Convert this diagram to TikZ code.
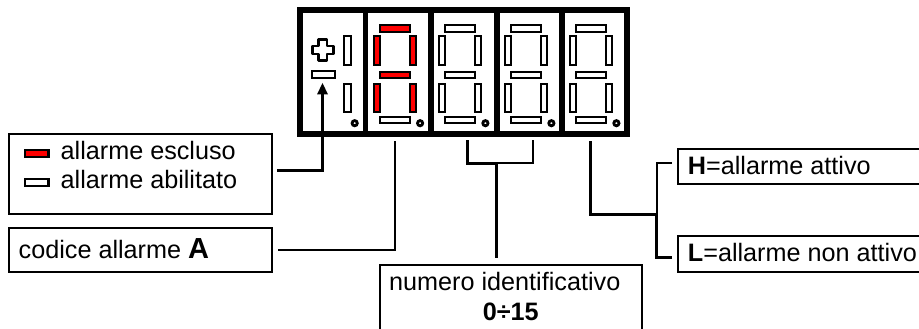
\documentclass[tikz,border=0pt]{standalone}
\usepackage{fontspec}
\setmainfont{Liberation Sans}
\definecolor{alarmred}{RGB}{255,0,0}
\tikzset{
  seg/.style={draw=black,line width=2.1pt,fill=white},
  redseg/.style={draw=black,line width=2.1pt,fill=alarmred},
  frameline/.style={draw=black,line width=5.2pt},
  dotmark/.style={draw=black,line width=2.8pt,fill=white},
  thinline/.style={draw=black,line width=1.3pt},
  midline/.style={draw=black,line width=1.9pt},
  thickline/.style={draw=black,line width=3pt},
  boxed/.style={draw=black,line width=1.8pt,fill=white,inner sep=0pt},
  txt/.style={inner sep=0pt,anchor=base west,font=\fontsize{25.2}{28}\selectfont},
  ctxt/.style={inner sep=0pt,anchor=base,font=\fontsize{25.2}{28}\selectfont\bfseries},
}
% #1 left divider x, #2 style for all segments
\newcommand{\digitsegs}[2]{%
  \begin{scope}[xshift=#1pt]
    \path[#2] (14,25) rectangle (44,32);
    \path[#2] (14,72) rectangle (44,78);
    \path[#2] (8.3,36) rectangle (14.4,65);
    \path[#2] (44.3,36) rectangle (50.4,65);
    \path[#2] (8.3,84) rectangle (14.4,112);
    \path[#2] (44.3,84) rectangle (50.4,112);
    \path[seg] (14,117) rectangle (44,123);
    \path[dotmark] (54.4,123.2) circle (2.6);
  \end{scope}}
\begin{document}
\begin{tikzpicture}[x=1pt,y=-1pt]
\useasboundingbox[fill=white] (0,0) rectangle (919,329);
\begin{scope}
\clip (0,0) rectangle (919,329);
% display frame
\node[frameline,fill=white,inner sep=0pt,minimum width=327pt,minimum height=124pt] (display) at (463.5,72) {};
\foreach \dx in {365.7,431,497,562}{\draw[frameline] (\dx,10) -- (\dx,134);}
% first panel
\path[seg] (344,36) rectangle (351,65);
\path[seg] (344,84) rectangle (351,112);
\path[seg] (311.7,71) rectangle (335.3,78);
\path[dotmark] (354.7,123.2) circle (2.6);
\draw[black,line width=2.6pt,fill=white,line join=round]
  (318.5,39.3) -- (326.8,39.3) -- (326.8,46) -- (333.3,46) -- (333.3,54) -- (326.8,54) -- (326.8,60.7) -- (318.5,60.7) -- (318.5,54) -- (312.2,54) -- (312.2,46) -- (318.5,46) -- cycle;
% digits
\digitsegs{365.7}{redseg}
\digitsegs{431}{seg}
\digitsegs{497}{seg}
\digitsegs{562}{seg}
% boxes
\node[boxed,minimum width=263pt,minimum height=80pt] (legend) at (140.5,174) {};
\node[boxed,minimum width=263pt,minimum height=44pt] (codice) at (140.5,250) {};
\node[boxed,minimum width=262pt,minimum height=90pt] (numero) at (511,310) {};
\node[boxed,minimum width=270pt,minimum height=35pt] (hbox) at (813,166.5) {};
\node[boxed,minimum width=270pt,minimum height=36pt] (lbox) at (813,254) {};
% legend
\path[redseg] (25,150) rectangle (48.5,156.6);
\path[seg] (25,179) rectangle (48.5,186);
\node[txt] (t1) at (60.5,159) {allarme escluso};
\node[txt] (t2) at (60.5,188) {allarme abilitato};
\node[txt] (t3) at (18.5,258) {codice allarme {\fontsize{29}{30}\selectfont\bfseries A}};
\node[txt] (t4) at (389,290) {numero identificativo};
\node[ctxt] (t5) at (510.7,320.7) {0÷15};
\node[txt] (t6) at (687.7,174) {{\bfseries H}=allarme attivo};
\node[txt] (t7) at (687.7,261.7) {{\bfseries L}=allarme non attivo};
% connector ends
\coordinate (legOut) at (277,170);
\coordinate (legTip) at (322.5,83);
\coordinate (codOut) at (278,250);
\coordinate (codTop) at (395,141);
\coordinate (brL) at (467,140);
\coordinate (brR) at (532.8,140);
\coordinate (brMid) at (496.3,163.3);
\coordinate (stemEnd) at (496.3,258);
\coordinate (almTop) at (590.3,141);
\coordinate (almJ) at (656.7,214.5);
\coordinate (hOut) at (672,162.8);
\coordinate (lOut) at (672,257);
% connectors
\draw[thickline] (legOut) -| (322.5,92);
\fill[black] (legTip) -- (328,94.5) -- (317,94.5) -- cycle;
\draw[thinline] (codOut) -| (codTop);
\draw[thickline] (brL) |- (brMid);
\draw[midline] (brMid) -| (brR);
\draw[thickline] (brMid) -- (stemEnd);
\draw[thickline] (almTop) |- (almJ);
\draw[midline] (hOut) -| (almJ);
\draw[thickline] (lOut) -| (almJ);
\end{scope}
\end{tikzpicture}
\end{document}
